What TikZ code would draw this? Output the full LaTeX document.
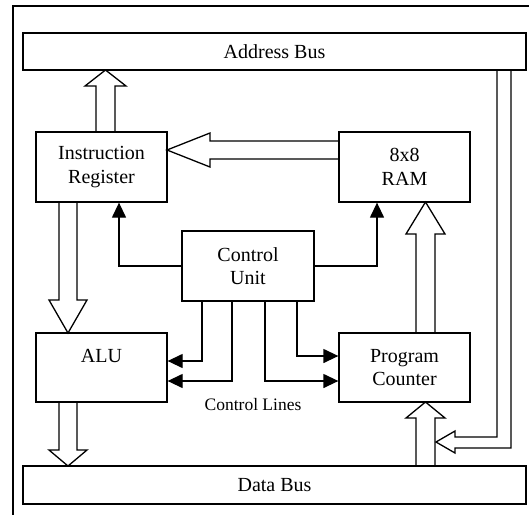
\documentclass[tikz,border=0pt]{standalone}
\usepackage{fontspec}
\setmainfont{Liberation Serif}
\usetikzlibrary{calc,arrows.meta}
\begin{document}
\begin{tikzpicture}[x=1pt,y=-1pt,
  every node/.style={font=\fontsize{20}{23.5}\selectfont},
  blk/.style={draw,line width=1.3pt,inner sep=0pt,align=center},
  busbox/.style={draw,line width=1.3pt,inner sep=0pt,minimum width=503pt},
  ctl/.style={line width=1.3pt,-{Triangle[length=15pt,width=14pt]}},
  hollow/.style={line width=1.3pt,line join=miter},
  lbl/.style={font=\fontsize{17.5}{20}\selectfont}]
\useasboundingbox (0,0) rectangle (529,514);
% outer frame
\draw[line width=1.3pt] (540,6) -- (13,6) -- (13,525);
% buses
\node[busbox,minimum height=37pt] (ab) at (274.5,51.5) {Address Bus};
\node[busbox,minimum height=38pt] (db) at (274.5,485) {Data Bus};
% blocks
\node[blk,minimum width=131pt,minimum height=70pt] (ir) at (101.5,167) {Instruction\\Register};
\node[blk,minimum width=131pt,minimum height=70pt] (ram) at (404.5,167) {8x8\\RAM};
\node[blk,minimum width=132pt,minimum height=70pt] (cu) at (248,266) {Control\\Unit};
\node[blk,minimum width=131pt,minimum height=69pt] (alu) at (101.5,367.5) {ALU\\~};
\node[blk,minimum width=131pt,minimum height=69pt] (pc) at (404.5,367.5) {Program\\Counter};
\node[lbl] (cl) at (253,405) {Control Lines};
% control connectors
\draw[ctl] (cu.west) -| ($(ir.south)+(17.5,0)$);
\draw[ctl] (cu.east) -| ($(ram.south)+(-27.5,0)$);
\draw[ctl] ($(cu.south)+(-46,0)$) |- ($(alu.east)+(0,-6.5)$);
\draw[ctl] ($(cu.south)+(-16,0)$) |- ($(alu.east)+(0,13.5)$);
\draw[ctl] ($(cu.south)+(17,0)$) |- ($(pc.west)+(0,13.5)$);
\draw[ctl] ($(cu.south)+(49,0)$) |- ($(pc.west)+(0,-11.5)$);
% hollow bus arrows
% IR -> Address bus
\draw[hollow] (96,132) -- (96,86) -- (85,86) -- (105.5,70) -- (126,86) -- (115,86) -- (115,132);
% RAM -> IR
\draw[hollow] (339,141) -- (210,141) -- (210,133) -- (167,150) -- (210,167) -- (210,159) -- (339,159);
% IR -> ALU
\draw[hollow] (59,202) -- (59,300) -- (49,300) -- (68,333) -- (87,300) -- (77,300) -- (77,202);
% ALU -> Data bus
\draw[hollow] (59,402) -- (59,450) -- (49,450) -- (68,466) -- (87,450) -- (77,450) -- (77,402);
% PC -> RAM
\draw[hollow] (416,333) -- (416,234) -- (406,234) -- (425.5,202) -- (445,234) -- (435,234) -- (435,333);
% Data bus -> PC
\draw[hollow] (416,466) -- (416,418) -- (406,418) -- (425.5,402) -- (445,418) -- (435,418) -- (435,466);
% Address bus -> PC path
\draw[hollow] (497,70) -- (497,437) -- (455,437) -- (455,431) -- (436,442) -- (455,453) -- (455,448) -- (511,448) -- (511,70);
\end{tikzpicture}
\end{document}
